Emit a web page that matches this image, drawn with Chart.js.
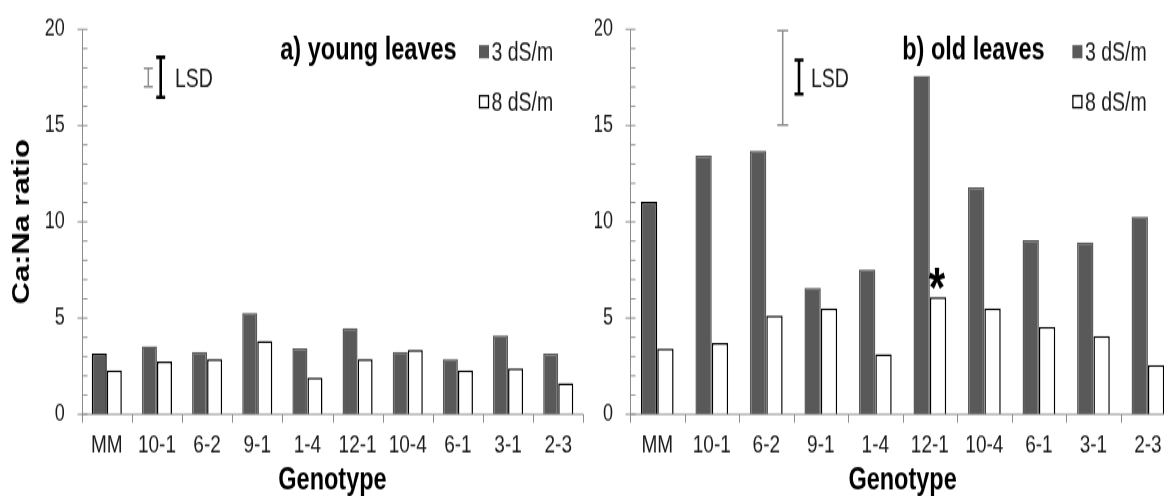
<!DOCTYPE html>
<html>
<head>
<meta charset="utf-8">
<script src="https://cdn.jsdelivr.net/npm/chart.js@4.4.1/dist/chart.umd.min.js"></script>
<style>
  html, body { margin: 0; padding: 0; background: #fff; overflow: hidden; width: 1164px; height: 496px; }
  canvas.panel { position: absolute; top: 0; transform-origin: 0 0; }
</style>
</head>
<body>
<canvas id="young" class="panel" width="595" height="376" style="left:0px"></canvas>
<canvas id="old" class="panel" width="605" height="376" style="left:595px"></canvas>
<script>
// Genotypes on the x axis
const genotypes = ['MM', '10-1', '6-2', '9-1', '1-4', '12-1', '10-4', '6-1', '3-1', '2-3'];
const seriesLabels = ['3 dS/m', '8 dS/m'];
const yTickValues = [0, 5, 10, 15, 20];

// Ca:Na ratio, young leaves
const young3 = [3.15, 3.53, 3.24, 5.26, 3.43, 4.48, 3.24, 2.87, 4.10, 3.15];
const young8 = [2.29, 2.75, 2.86, 3.81, 1.90, 2.86, 3.34, 2.29, 2.39, 1.61];
// Ca:Na ratio, old leaves
const old3 = [11.03, 13.43, 13.69, 6.56, 7.52, 17.59, 11.79, 9.05, 8.93, 10.27];
const old8 = [3.41, 3.71, 5.13, 5.51, 3.12, 6.08, 5.51, 4.55, 4.07, 2.55];

// LSD bars [low, high] in ratio units
const youngLsdGrey = [17.02, 17.97];
const youngLsdBlack = [16.47, 18.55];
const oldLsdGrey = [15.03, 19.93];
const oldLsdBlack = [16.64, 18.40];

// The figure is drawn at 376 px tall and stretched vertically to 496 px
const S = 496 / 376;
const fy = v => v / S;
const DARK = '#595959';
const AXIS = '#8c8c8c';
const FONT = '"Liberation Sans", Arial, sans-serif';

const panelDecor = {
  id: 'panelDecor',
  afterDraw(chart, args, o) {
    const { ctx, chartArea: a, scales: { x, y } } = chart;
    ctx.save();
    ctx.strokeStyle = AXIS;
    ctx.lineWidth = 1;
    const ax = Math.round(a.left) + 0.5;
    const yTop = y.getPixelForValue(y.max), yBot = y.getPixelForValue(0);
    // value axis with crossing major ticks and inside minor ticks
    ctx.beginPath();
    ctx.moveTo(ax, yTop); ctx.lineTo(ax, yBot);
    for (let i = 0; i < yTickValues.length; i++) {
      const v = yTickValues[i];
      const py = y.getPixelForValue(v);
      ctx.moveTo(ax - 5, py); ctx.lineTo(ax + 5, py);
      if (i < yTickValues.length - 1) {
        const step = (yTickValues[i + 1] - v) / 5;
        for (let k = 1; k < 5; k++) {
          const pm = y.getPixelForValue(v + k * step);
          ctx.moveTo(ax, pm); ctx.lineTo(ax + 5, pm);
        }
      }
    }
    ctx.stroke();
    // category axis with ticks at the category boundaries
    ctx.beginPath();
    ctx.moveTo(a.left, yBot); ctx.lineTo(a.right, yBot);
    for (let i = 0; i <= genotypes.length; i++) {
      const pxv = Math.round(x.getPixelForValue(i - 0.5)) + 0.5;
      ctx.moveTo(pxv, yBot); ctx.lineTo(pxv, yBot + fy(8.4));
    }
    ctx.stroke();

    // LSD bars
    for (const b of o.lsd) {
      const bx = x.getPixelForValue(b.at);
      const y0 = y.getPixelForValue(b.range[0]), y1 = y.getPixelForValue(b.range[1]);
      ctx.strokeStyle = b.color;
      ctx.lineWidth = b.width;
      ctx.beginPath();
      ctx.moveTo(bx, y0); ctx.lineTo(bx, y1);
      ctx.moveTo(bx - b.cap, y0); ctx.lineTo(bx + b.cap, y0);
      ctx.moveTo(bx - b.cap, y1); ctx.lineTo(bx + b.cap, y1);
      ctx.stroke();
    }
    ctx.fillStyle = '#1a1a1a';
    ctx.font = '19.5px ' + FONT;
    ctx.textAlign = 'left';
    ctx.textBaseline = 'alphabetic';
    ctx.fillText('LSD', o.lsdLabelX, o.lsdLabelBase);

    // panel title
    ctx.fillStyle = '#000';
    ctx.font = 'bold 23.5px ' + FONT;
    ctx.fillText(o.title, o.titleX, o.titleBase);

    // legend
    ctx.font = '19.5px ' + FONT;
    chart.data.datasets.forEach((ds, i) => {
      const cy = o.legendRows[i];
      const sq = 10;
      ctx.fillStyle = ds.backgroundColor;
      ctx.fillRect(o.legendX, cy - sq / 2, sq, sq);
      if (ds.legendBorder) {
        ctx.strokeStyle = ds.legendBorder;
        ctx.lineWidth = 1.3;
        ctx.strokeRect(o.legendX + 0.5, cy - sq / 2 + 0.5, sq - 1, sq - 1);
      }
      ctx.fillStyle = '#1a1a1a';
      ctx.fillText(ds.label, o.legendX + 12.5, cy + 7);
    });

    // significance mark, centred a little above its bar
    if (o.star) {
      const bar = chart.getDatasetMeta(o.star.dataset).data[o.star.index];
      ctx.fillStyle = '#000';
      ctx.font = 'bold 42px ' + FONT;
      ctx.textAlign = 'center';
      const m = ctx.measureText('*');
      const centre = bar.y - fy(19);
      ctx.fillText('*', bar.x - 1, centre + (m.actualBoundingBoxAscent - m.actualBoundingBoxDescent) / 2);
    }
    ctx.restore();
  }
};

function makePanel(id, cfg) {
  const canvas = document.getElementById(id);
  canvas.style.transform = 'scaleY(' + S + ')';
  return new Chart(canvas, {
    type: 'bar',
    data: {
      labels: genotypes,
      datasets: [
        {
          label: seriesLabels[0], data: cfg.low,
          backgroundColor: DARK,
          borderColor: genotypes.map((g, i) => i === 0 ? '#000' : DARK),
          borderWidth: 1.5
        },
        {
          label: seriesLabels[1], data: cfg.high,
          backgroundColor: '#fff', borderColor: '#000', borderWidth: 1.5,
          legendBorder: '#000'
        }
      ]
    },
    options: {
      responsive: false,
      animation: false,
      devicePixelRatio: 1,
      layout: { padding: { left: 0, right: cfg.padRight, top: fy(29.3), bottom: 0 } },
      datasets: { bar: { categoryPercentage: 0.6, barPercentage: 1.0 } },
      scales: {
        x: {
          grid: { display: false, drawTicks: false },
          border: { display: false },
          ticks: { color: '#1a1a1a', font: { family: FONT, size: 19 }, padding: 12.5, maxRotation: 0, autoSkip: false },
          title: { display: true, text: 'Genotype', color: '#000', font: { family: FONT, size: 23.5, weight: 'bold', lineHeight: 1 }, padding: 0 },
          afterFit: s => { s.height = 376 - fy(414.3); s.paddingLeft = 0; s.paddingRight = 0; }
        },
        y: {
          min: 0, max: 20,
          grid: { display: false, drawTicks: false },
          border: { display: false },
          afterBuildTicks: s => { s.ticks = yTickValues.map(v => ({ value: v })); },
          ticks: { color: '#1a1a1a', font: { family: FONT, size: 18 }, padding: 17 },
          title: { display: cfg.yTitle, text: 'Ca:Na ratio', color: '#000', font: { family: FONT, size: 23.5, weight: 'bold' }, padding: { top: 8.5, bottom: 0 } },
          afterFit: s => { s.width = cfg.axisLeft; s.paddingTop = 0; s.paddingBottom = 0; }
        }
      },
      plugins: {
        legend: { display: false },
        tooltip: { enabled: false },
        panelDecor: cfg.decor
      }
    },
    plugins: [panelDecor]
  });
}

makePanel('young', {
  low: young3, high: young8, yTitle: true, axisLeft: 81.7, padRight: 11.7,
  decor: {
    title: 'a) young leaves', titleX: 280.3, titleBase: fy(60),
    legendX: 479, legendRows: [fy(51.7), fy(101.7)],
    lsd: [
      { at: 0.828, range: youngLsdGrey, color: '#8c8c8c', width: 1.5, cap: 4.5 },
      { at: 1.075, range: youngLsdBlack, color: '#000', width: 2.6, cap: 4.5 }
    ],
    lsdLabelX: 175, lsdLabelBase: fy(87),
    star: null
  }
});

makePanel('old', {
  low: old3, high: old8, yTitle: false, axisLeft: 35, padRight: 24.8,
  decor: {
    title: 'b) old leaves', titleX: 307.2, titleBase: fy(60),
    legendX: 477.4, legendRows: [fy(51.7), fy(101.7)],
    lsd: [
      { at: 2.301, range: oldLsdGrey, color: '#8c8c8c', width: 1.5, cap: 5.5 },
      { at: 2.600, range: oldLsdBlack, color: '#000', width: 2.6, cap: 4.5 }
    ],
    lsdLabelX: 216, lsdLabelBase: fy(87),
    star: { dataset: 1, index: 5 }
  }
});
</script>
</body>
</html>
